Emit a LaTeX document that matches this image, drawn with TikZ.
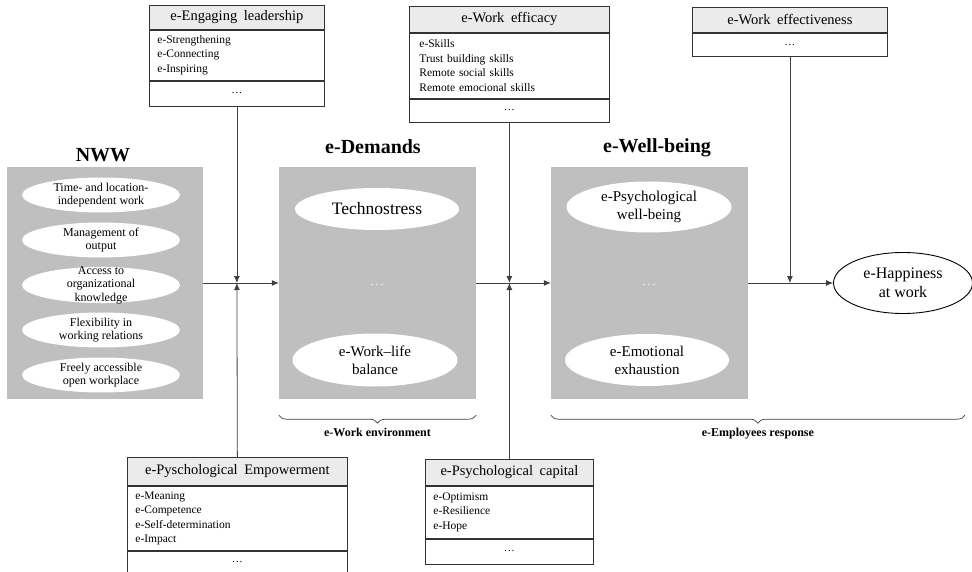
\documentclass[tikz,border=0pt]{standalone}
\usepackage{fontspec}
\setmainfont{Liberation Serif}
\usetikzlibrary{positioning,shapes.geometric,arrows.meta,decorations.pathreplacing,calc}

\begin{document}
\begin{tikzpicture}[
        x=1pt, y=-1pt,
        node distance=0pt,
        panel/.style={rectangle, fill=black!25, minimum width=197pt, minimum height=232pt},
        title/.style={font=\fontsize{20}{24}\selectfont\bfseries},
        oval/.style={ellipse, fill=white, align=center, inner sep=0pt},
        head/.style={rectangle, draw=black!80, line width=0.8pt, fill=black!8, minimum height=#1, inner sep=0pt, font=\fontsize{14.5}{17}\selectfont},
        items/.style={rectangle, draw=black!80, line width=0.8pt, fill=white, align=left, inner xsep=8pt, inner ysep=3pt, minimum height=#1, font=\fontsize{11.5}{14.5}\selectfont},
        more/.style={rectangle, draw=black!80, line width=0.8pt, fill=white, inner sep=0pt, minimum height=#1, font=\fontsize{11}{13}\selectfont},
        arrow/.style={->, >={Latex[length=7pt,width=6pt]}, line width=0.8pt, draw=black!75},
        bracket/.style={decorate, decoration={brace, mirror, amplitude=8pt}, line width=0.7pt, draw=black!75},
        tag/.style={font=\fontsize{12}{14}\selectfont\bfseries}
    ]
        \useasboundingbox (0,0) rectangle (972,572);

        % NWW
        \node[panel, minimum width=196pt] (nww) at (105,283) {};
        \node[title, anchor=base] (nww-t) at (103,162) {NWW};
        \foreach \txt [count=\i] in {{Time- and location-\\independent work}, {Management of\\output}, {Access to\\organizational\\knowledge}, {Flexibility in\\working relations}, {Freely accessible\\open workplace}}
            \node[oval, minimum width=158pt, minimum height=35pt, inner ysep=-6pt, font=\fontsize{12}{13.5}\selectfont] (nww-\i) at (101,{150+45*\i}) {\txt};

        % e-Demands
        \node[panel] (dem) at (377.5,283) {};
        \node[title, anchor=base] (dem-t) at (373,154) {e-Demands};
        \node[oval, minimum width=164pt, minimum height=42pt, font=\fontsize{17.5}{20}\selectfont] (techno) at (377,209) {Technostress};
        \node[text=white, font=\fontsize{12}{14}\selectfont] (dem-dots) at (377,285) {.\,.\,.};
        \node[oval, minimum width=165pt, minimum height=53pt, font=\fontsize{15}{18}\selectfont] (wlb) at (375,360) {e-Work--life\\balance};

        % e-Well-being
        \node[panel] (wb) at (649.5,283) {};
        \node[title, anchor=base] (wb-t) at (657,153) {e-Well-being};
        \node[oval, minimum width=165pt, minimum height=51pt, font=\fontsize{15}{18}\selectfont] (pwb) at (649,207) {e-Psychological\\well-being};
        \node[text=white, font=\fontsize{12}{14}\selectfont] (wb-dots) at (649,285) {.\,.\,.};
        \node[oval, minimum width=164pt, minimum height=52pt, font=\fontsize{15}{18}\selectfont] (emex) at (647,360) {e-Emotional\\exhaustion};

        % e-Happiness
        \node[ellipse, draw=black, line width=0.9pt, align=center, inner sep=0pt, minimum width=139pt, minimum height=61pt, font=\fontsize{16}{19}\selectfont] (happy) at (903,283) {e-Happiness\\at work};

        % Top boxes
        \node[head=24pt, minimum width=175pt, anchor=north west] (lead) at (149,5) {e-Engaging\hspace{0.45em}leadership};
        \node[items=50pt, text width=159pt, below=of lead] (lead-items) {e-Strengthening\\e-Connecting\\e-Inspiring};
        \node[more=25pt, minimum width=175pt, below=of lead-items] (lead-more) {\dots};

        \node[head=26pt, minimum width=200pt, anchor=north west] (eff) at (409,6) {e-Work\hspace{0.45em}efficacy};
        \node[items=65pt, text width=180pt, inner xsep=10pt, below=of eff] (eff-items) {e-Skills\\Trust building skills\\Remote social skills\\Remote emocional skills};
        \node[more=23pt, minimum width=200pt, below=of eff-items] (eff-more) {\dots};

        \node[head=25pt, minimum width=195pt, anchor=north west] (effect) at (692,7) {e-Work\hspace{0.45em}effectiveness};
        \node[more=23pt, minimum width=195pt, below=of effect] (effect-more) {\dots};

        % Bottom boxes
        \node[head=28pt, minimum width=220pt, anchor=north west] (emp) at (127,457) {e-Pyschological\hspace{0.45em}Empowerment};
        \node[items=64pt, text width=204pt, below=of emp] (emp-items) {e-Meaning\\e-Competence\\e-Self-determination\\e-Impact};
        \node[more=23pt, minimum width=220pt, below=of emp-items] (emp-more) {\dots};

        \node[head=26pt, minimum width=168pt, anchor=north west] (cap) at (425,459) {e-Psychological\hspace{0.45em}capital};
        \node[items=52pt, text width=152pt, below=of cap] (cap-items) {e-Optimism\\e-Resilience\\e-Hope};
        \node[more=25pt, minimum width=168pt, below=of cap-items] (cap-more) {\dots};

        % Junctions
        \coordinate (j1) at (lead-more.south |- nww.east);
        \coordinate (j2) at (eff-more.south |- dem.east);
        \coordinate (j3) at (effect-more.south |- wb.east);

        % Arrows
        \draw[arrow] (nww) -- (dem);
        \draw[arrow] (dem) -- (wb);
        \draw[arrow] (wb) -- (happy);
        \draw[arrow] (lead-more) -- (j1);
        \draw[arrow] (emp) -- (j1);
        \draw[arrow] (eff-more) -- (j2);
        \draw[arrow] (cap) -- (j2);
        \draw[arrow] (effect-more) -- (j3);

        % Braces
        \draw[bracket] ($(dem.south west)+(0pt,-16pt)$) -- ($(dem.south east)+(0pt,-16pt)$)
            node[midway, below=9pt, tag] (env) {e-Work environment};
        \draw[bracket] ($(wb.south west)+(0pt,-16pt)$) -- ($(wb.south west -| happy.east)+(-8pt,-16pt)$)
            node[midway, below=9pt, tag] (resp) {e-Employees response};
    \end{tikzpicture}
\end{document}
